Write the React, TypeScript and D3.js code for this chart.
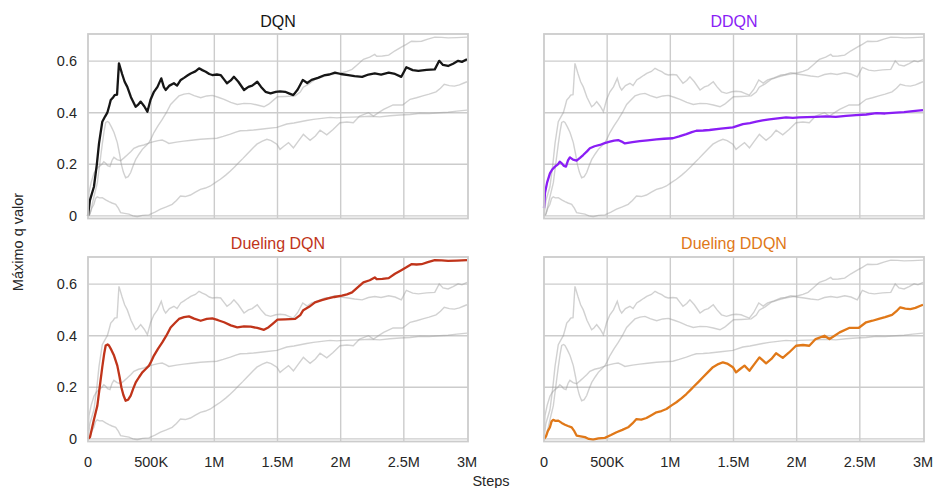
import * as d3 from "d3";

// [step in thousands, max q value]
const dqn: [number, number][] = [
  [0, 0.0], [15, 0.06], [47, 0.113], [70, 0.2], [87, 0.28], [113, 0.365], [135, 0.385], [153, 0.4],
  [170, 0.43], [180, 0.449], [200, 0.46], [211, 0.468], [230, 0.47], [245, 0.591], [270, 0.55],
  [290, 0.52], [311, 0.5], [340, 0.46], [377, 0.423], [395, 0.43], [417, 0.443], [445, 0.425],
  [470, 0.404], [495, 0.45], [522, 0.481], [550, 0.5], [580, 0.533], [600, 0.5], [615, 0.488],
  [645, 0.505], [680, 0.514], [705, 0.505], [734, 0.527], [760, 0.535], [790, 0.545], [813, 0.552],
  [850, 0.56], [879, 0.572], [905, 0.565], [932, 0.559], [960, 0.55], [984, 0.546], [1020, 0.548],
  [1050, 0.546], [1075, 0.53], [1100, 0.514], [1130, 0.525], [1155, 0.539], [1190, 0.52],
  [1235, 0.488], [1270, 0.5], [1300, 0.505], [1340, 0.52], [1370, 0.5], [1405, 0.481], [1445, 0.475],
  [1486, 0.481], [1520, 0.483], [1560, 0.481], [1590, 0.475], [1625, 0.468], [1660, 0.49],
  [1700, 0.527], [1735, 0.515], [1770, 0.527], [1820, 0.535], [1876, 0.546], [1910, 0.548],
  [1955, 0.555], [2000, 0.55], [2060, 0.546], [2110, 0.542], [2170, 0.539], [2220, 0.548],
  [2270, 0.552], [2320, 0.548], [2380, 0.555], [2430, 0.55], [2480, 0.539], [2520, 0.576],
  [2570, 0.565], [2615, 0.562], [2680, 0.566], [2745, 0.568], [2780, 0.601], [2810, 0.585],
  [2850, 0.581], [2890, 0.59], [2930, 0.601], [2960, 0.597], [3000, 0.607],
];

const ddqn: [number, number][] = [
  [0, 0.03], [8, 0.09], [25, 0.13], [47, 0.165], [65, 0.18], [87, 0.191], [110, 0.2], [125, 0.21],
  [140, 0.204], [155, 0.195], [174, 0.191], [190, 0.215], [205, 0.227], [230, 0.218], [258, 0.214],
  [285, 0.225], [310, 0.236], [340, 0.25], [363, 0.262], [400, 0.27], [442, 0.275], [480, 0.282],
  [521, 0.288], [555, 0.292], [587, 0.294], [615, 0.288], [640, 0.281], [700, 0.286], [758, 0.29],
  [820, 0.293], [890, 0.297], [950, 0.299], [1020, 0.301], [1070, 0.308], [1127, 0.317],
  [1170, 0.325], [1206, 0.33], [1260, 0.331], [1310, 0.333], [1400, 0.338], [1495, 0.343],
  [1574, 0.356], [1630, 0.36], [1680, 0.365], [1730, 0.37], [1784, 0.374], [1850, 0.378],
  [1916, 0.382], [1970, 0.38], [2020, 0.382], [2080, 0.383], [2150, 0.384], [2230, 0.386],
  [2310, 0.384], [2390, 0.388], [2470, 0.391], [2550, 0.393], [2630, 0.398], [2700, 0.397],
  [2785, 0.4], [2850, 0.402], [2920, 0.406], [3000, 0.41],
];

const duelingDqn: [number, number][] = [
  [0, 0.0], [16, 0.007], [45, 0.07], [74, 0.129], [95, 0.21], [113, 0.278], [128, 0.33], [140, 0.362],
  [155, 0.366], [166, 0.362], [185, 0.345], [206, 0.323], [232, 0.284], [250, 0.24], [264, 0.2],
  [280, 0.17], [298, 0.148], [318, 0.152], [338, 0.168], [358, 0.195], [378, 0.219], [405, 0.24],
  [430, 0.258], [455, 0.27], [483, 0.284], [500, 0.3], [522, 0.323], [555, 0.35], [588, 0.374],
  [620, 0.4], [654, 0.432], [690, 0.45], [720, 0.465], [760, 0.472], [799, 0.475], [840, 0.466],
  [892, 0.458], [940, 0.465], [984, 0.467], [1030, 0.46], [1077, 0.452], [1130, 0.44], [1182, 0.432],
  [1235, 0.436], [1288, 0.435], [1340, 0.43], [1393, 0.423], [1430, 0.433], [1459, 0.445],
  [1500, 0.462], [1560, 0.463], [1640, 0.465], [1680, 0.48], [1704, 0.499], [1750, 0.512],
  [1797, 0.529], [1850, 0.538], [1900, 0.545], [1950, 0.55], [2010, 0.555], [2050, 0.56],
  [2090, 0.568], [2130, 0.585], [2180, 0.607], [2230, 0.615], [2270, 0.626], [2285, 0.619],
  [2330, 0.62], [2380, 0.623], [2430, 0.64], [2480, 0.654], [2520, 0.665], [2560, 0.677],
  [2600, 0.676], [2640, 0.677], [2690, 0.685], [2745, 0.693], [2800, 0.692], [2850, 0.69],
  [2920, 0.691], [3000, 0.693],
];

const duelingDdqn: [number, number][] = [
  [0, 0.0], [16, 0.01], [30, 0.03], [47, 0.045], [60, 0.068], [73, 0.074], [90, 0.07], [113, 0.071],
  [140, 0.062], [166, 0.055], [190, 0.05], [219, 0.045], [240, 0.03], [258, 0.013], [290, 0.01],
  [324, 0.007], [355, 0.0], [389, -0.003], [430, 0.002], [482, 0.004], [530, 0.015], [574, 0.026],
  [620, 0.035], [666, 0.045], [700, 0.06], [732, 0.077], [770, 0.075], [811, 0.081], [850, 0.092],
  [890, 0.103], [930, 0.108], [969, 0.116], [1010, 0.13], [1048, 0.142], [1090, 0.158],
  [1127, 0.174], [1160, 0.19], [1192, 0.206], [1225, 0.222], [1258, 0.239], [1300, 0.26],
  [1337, 0.278], [1380, 0.29], [1416, 0.297], [1450, 0.292], [1495, 0.278], [1520, 0.258],
  [1550, 0.27], [1587, 0.284], [1626, 0.264], [1665, 0.29], [1705, 0.316], [1730, 0.305],
  [1758, 0.293], [1800, 0.31], [1837, 0.332], [1890, 0.314], [1940, 0.335], [1995, 0.361],
  [2050, 0.364], [2100, 0.361], [2150, 0.387], [2220, 0.4], [2260, 0.387], [2300, 0.4],
  [2340, 0.413], [2415, 0.43], [2490, 0.43], [2550, 0.452], [2600, 0.458], [2650, 0.465],
  [2700, 0.472], [2755, 0.481], [2790, 0.495], [2820, 0.51], [2860, 0.505], [2900, 0.503],
  [2940, 0.508], [2980, 0.516], [3000, 0.52],
];

const names = ["DQN", "DDQN", "Dueling DQN", "Dueling DDQN"];
const colors = ["#161616", "#8a1ef5", "#c0341a", "#e07818"];
const allSeries = [dqn, ddqn, duelingDqn, duelingDdqn];

const xTicks = [0, 500, 1000, 1500, 2000, 2500, 3000];
const xTickLabels = ["0", "500K", "1M", "1.5M", "2M", "2.5M", "3M"];
const yTicks = [0, 0.2, 0.4, 0.6];
const yTickLabels = ["0", "0.2", "0.4", "0.6"];

const W = 936;
const H = 488;
const colLeft = [88, 544];
const rowTop = [34, 257];
const pw = 380;
const ph = 184.5;
const font = "'Liberation Sans', Arial, sans-serif";
const grid = "#cccccc";

function Panel({ idx }: { idx: number }) {
  const col = idx % 2;
  const row = Math.floor(idx / 2);
  const left = colLeft[col];
  const top = rowTop[row];
  const x = d3.scaleLinear().domain([0, 3000]).range([left, left + pw - 1]);
  const y = d3.scaleLinear().domain([-0.01, 0.705]).range([top + ph, top]);
  const line = d3
    .line<[number, number]>()
    .x((d) => x(d[0]))
    .y((d) => y(d[1]));

  return (
    <g>
      <rect x={left} y={top} width={pw} height={ph} fill="#fff" />
      {xTicks.slice(1, -1).map((t) => (
        <line key={"gx" + t} x1={x(t)} x2={x(t)} y1={top} y2={top + ph} stroke={grid} strokeWidth={1.4} />
      ))}
      {yTicks.map((t) => (
        <line key={"gy" + t} x1={left} x2={left + pw} y1={y(t)} y2={y(t)} stroke={grid} strokeWidth={1.4} />
      ))}
      {allSeries.map((s, i) =>
        i === idx ? null : (
          <path key={"s" + i} d={line(s) || ""} fill="none" stroke="#999" strokeOpacity={0.45} strokeWidth={1.4} />
        )
      )}
      <path d={line(allSeries[idx]) || ""} fill="none" stroke={colors[idx]} strokeWidth={2.3} strokeLinejoin="round" />
      <rect x={left} y={top} width={pw} height={ph} fill="none" stroke={grid} strokeWidth={1.8} />
      <text
        x={left + pw / 2}
        y={row === 0 ? 27 : 249}
        textAnchor="middle"
        fontSize={16}
        fill={colors[idx]}
        fontFamily={font}
      >
        {names[idx]}
      </text>
      {col === 0 &&
        yTicks.map((t, i) => (
          <text key={"yl" + t} x={77} y={y(t) + 5} textAnchor="end" fontSize={14.5} fill="#262626" fontFamily={font}>
            {yTickLabels[i]}
          </text>
        ))}
      {row === 1 &&
        xTicks.map((t, i) => (
          <text key={"xl" + t} x={x(t)} y={467} textAnchor="middle" fontSize={14.5} fill="#262626" fontFamily={font}>
            {xTickLabels[i]}
          </text>
        ))}
    </g>
  );
}

export default function App() {
  return (
    <svg
      width={W}
      height={H}
      style={{ position: "absolute", left: 0, top: 0, display: "block", background: "#fff" }}
    >
      {names.map((_, i) => (
        <Panel key={i} idx={i} />
      ))}
      <text
        transform="translate(23,242) rotate(-90)"
        textAnchor="middle"
        fontSize={14.5}
        fill="#262626"
        fontFamily={font}
      >
        Máximo q valor
      </text>
      <text x={491} y={486} textAnchor="middle" fontSize={14.5} fill="#262626" fontFamily={font}>
        Steps
      </text>
    </svg>
  );
}
